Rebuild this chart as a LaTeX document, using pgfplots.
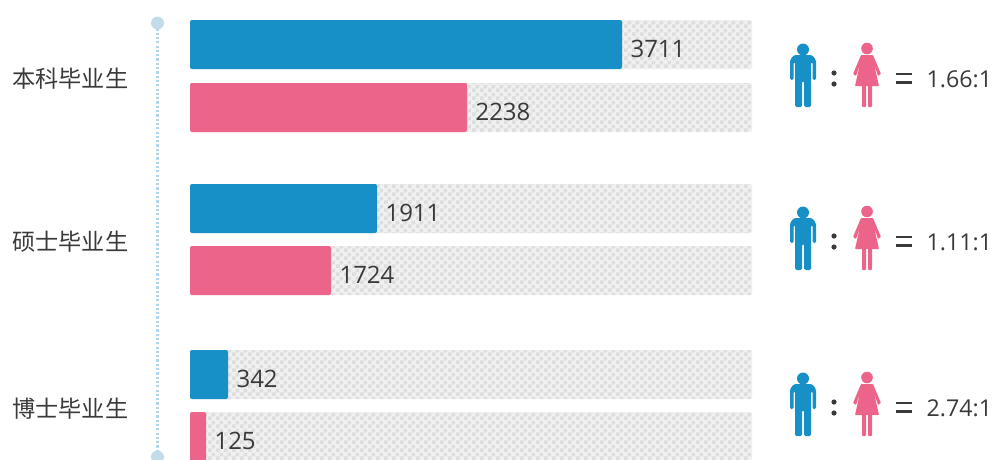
\documentclass[border=0pt]{standalone}
\usepackage{fontspec}
\usepackage{pgfplots}
\usepackage{pgfplotstable}
\pgfplotsset{compat=1.18,compat/path replacement=1.5.1}
\usetikzlibrary{patterns}
\setmainfont{Open Sans}
\newfontfamily\cjk{Noto Sans CJK SC}
\definecolor{mblue}{HTML}{1790C8}
\definecolor{fpink}{HTML}{EC648A}
\definecolor{txt}{HTML}{3A3A3A}
\definecolor{lin}{HTML}{C4DCEA}
\definecolor{dots}{HTML}{B4D6EA}
\definecolor{bgA}{HTML}{F0F0F0}
\definecolor{bgB}{HTML}{DEDEDE}
\pgfdeclarepatternformonly{chk}{\pgfqpoint{0pt}{0pt}}{\pgfqpoint{8pt}{8pt}}{\pgfqpoint{8pt}{8pt}}{%
  \pgfpathrectangle{\pgfqpoint{0pt}{0pt}}{\pgfqpoint{4pt}{4pt}}%
  \pgfpathrectangle{\pgfqpoint{4pt}{4pt}}{\pgfqpoint{4pt}{4pt}}%
  \pgfusepath{fill}}
\pgfplotstableread{
len y lab
432 44.5 3711
187 208.5 1911
38 374.5 342
}\men
\pgfplotstableread{
len y lab
277 107.5 2238
141 270.5 1724
16 436.5 125
}\women
\pgfplotstableread{
len y
562 44.5
562 107.5
562 208.5
562 270.5
562 374.5
562 436.5
}\track
\newcommand\icons[2]{%
  \begin{scope}[shift={(axis cs:613,#1)},x=1pt,y=-1pt]
    \fill[mblue] (0,5.5) circle (6pt);
    \fill[mblue,rounded corners=1.5pt] (-13,16) -- (-9,11) -- (9,11) -- (13,16) -- (13,36) -- (9.5,36) -- (9.5,18) -- (8,18) -- (8,63) -- (1,63) -- (1,37) -- (-1,37) -- (-1,63) -- (-8,63) -- (-8,18) -- (-9.5,18) -- (-9.5,36) -- (-13,36) -- cycle;
  \end{scope}
  \begin{scope}[shift={(axis cs:677,#1)},x=1pt,y=-1pt]
    \fill[fpink] (0,4.5) circle (5.8pt);
    \fill[fpink,rounded corners=0.8pt] (-6,11) -- (6,11) -- (14,30) -- (11,32) -- (7,20) -- (12,42) -- (-12,42) -- (-7,20) -- (-11,32) -- (-14,30) -- cycle;
    \fill[fpink,rounded corners=0.8pt] (-5,41) rectangle (-1,63);
    \fill[fpink,rounded corners=0.8pt] (1,41) rectangle (5,63);
  \end{scope}
  \begin{scope}[shift={(axis cs:644,#1)},x=1pt,y=-1pt]
    \fill[txt] (0,29) circle (2.6pt);
    \fill[txt] (0,40) circle (2.6pt);
    \fill[txt] (62,28.5) rectangle (78,31);
    \fill[txt] (62,37) rectangle (78,39.5);
  \end{scope}
  \node[anchor=west,inner sep=0pt,text=txt,font=\fontsize{23.2}{27}\selectfont] at (axis cs:736.5,#1+35) {#2};
}
\begin{document}
\begin{tikzpicture}
\useasboundingbox (0,0) rectangle (994pt,459pt);
\begin{axis}[
  at={(0,0)}, anchor=south west,
  scale only axis, width=994pt, height=459pt,
  xmin=-190, xmax=804, ymin=0, ymax=459, y dir=reverse,
  hide axis, xbar, bar shift=0pt, bar width=49,
  every axis plot/.append style={draw=none, rounded corners=2pt},
  nodes near coords style={font=\fontsize{24}{28}\selectfont, text=txt, anchor=west, xshift=5pt, yshift=-4.5pt},
]
\addplot[fill=bgA] table[x=len,y=y] {\track};
\addplot[pattern=chk, pattern color=bgB] table[x=len,y=y] {\track};
\addplot[fill=mblue, nodes near coords, point meta=explicit symbolic] table[x=len,y=y,meta=lab] {\men};
\addplot[fill=fpink, nodes near coords, point meta=explicit symbolic] table[x=len,y=y,meta=lab] {\women};
\draw[dots, line width=2.2pt, dash pattern=on 2.2pt off 2.1pt] (axis cs:-32.5,24) -- (axis cs:-32.5,452);
\fill[lin] (axis cs:-32.5,23) circle (6.5pt);
\fill[lin] (axis cs:-32.5,457) circle (6.5pt);
\foreach \yy/\tt in {79/本科毕业生,242/硕士毕业生,409/博士毕业生}{
  \edef\temp{\noexpand\node[anchor=west,inner sep=0pt,text=txt,font=\noexpand\cjk\noexpand\fontsize{23.2}{27}\noexpand\selectfont] at (axis cs:-178,\yy) {\tt};}
  \temp
}
\icons{44}{1.66:1}
\icons{207}{1.11:1}
\icons{373}{2.74:1}
\end{axis}
\end{tikzpicture}
\end{document}
